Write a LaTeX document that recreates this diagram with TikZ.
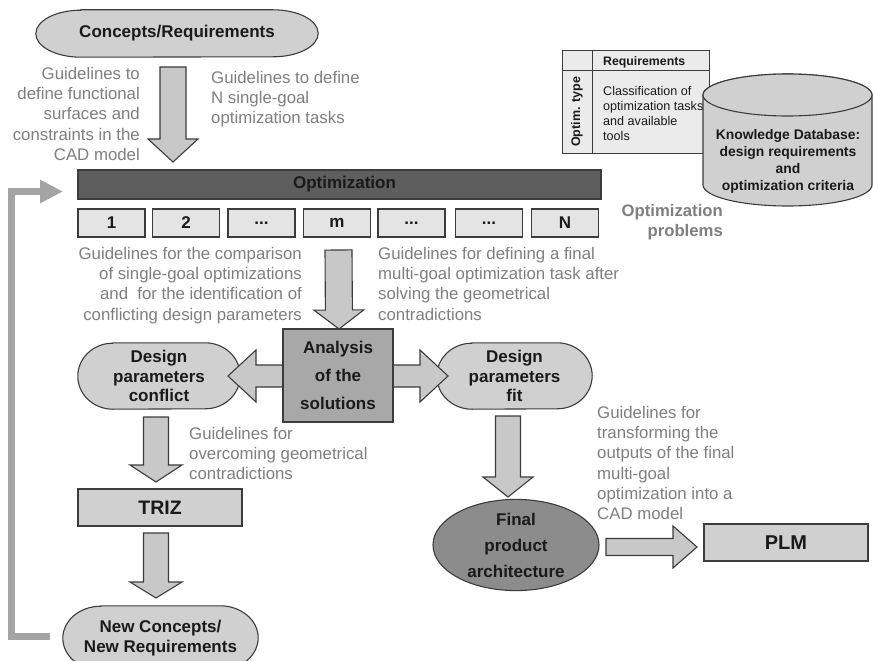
\documentclass[tikz,border=0pt]{standalone}
\usepackage{fontspec}
\setmainfont{Liberation Sans}
\usetikzlibrary{calc,backgrounds,arrows.meta,shapes.geometric}
\definecolor{gtext}{HTML}{7F7F7F}
\definecolor{lfill}{HTML}{D0D0D0}
\definecolor{bfill}{HTML}{E4E4E4}
\definecolor{afill}{HTML}{C8C8C8}
\definecolor{edge}{HTML}{3C3C3C}
\definecolor{darkbar}{HTML}{5E5E5E}
\definecolor{midfill}{HTML}{A8A8A8}
\definecolor{ellfill}{HTML}{8C8C8C}
\definecolor{fbline}{HTML}{A4A4A4}
\definecolor{tfill}{HTML}{EBEBEB}
\definecolor{ink}{HTML}{1A1A1A}

\newcommand\tdots{...}

\tikzset{
 note/.style={text=gtext, font=\fontsize{16.8}{20.3}\selectfont, inner sep=0pt},
 boxnode/.style={draw=edge, line width=1.1pt, fill=bfill, inner sep=0pt, text=ink},
 boldtxt/.style={font=\fontsize{17}{19.5}\selectfont\bfseries, text=ink},
 barrowstyle/.style={draw=edge, line width=1.1pt, fill=afill, line join=miter},
 capsulenode/.style={inner sep=0pt, align=center, text=ink, font=\fontsize{17}{19.5}\selectfont\bfseries},
 capsuleshape/.style={draw=edge, line width=1.1pt},
}

% block arrow: #1 start, #2 tip, #3 shaft half width, #4 head half width, #5 head length
\newcommand\bkarrow[5]{%
 \coordinate (ba-h) at ($(#2)!#5!(#1)$);
 \draw[barrowstyle] ($(#1)!#3!90:(#2)$) -- ($(ba-h)!#3!-90:(#1)$) -- ($(ba-h)!#4!-90:(#1)$) -- (#2)
   -- ($(ba-h)!#4!90:(#1)$) -- ($(ba-h)!#3!90:(#1)$) -- ($(#1)!#3!-90:(#2)$) -- cycle;
}
% capsule: #1 name, #2 center, #3 w, #4 h, #5 rx, #6 fill, #7 text
\newcommand\capsule[7]{%
 \node[capsulenode, minimum width=#3, minimum height=#4] (#1) at (#2) {#7};
 \begin{pgfonlayer}{background}
 \draw[capsuleshape, fill=#6] ([xshift=#5]#1.north west) -- ([xshift=-#5]#1.north east)
   arc[start angle=90, end angle=-90, x radius=#5, y radius=0.5*#4]
   -- ([xshift=#5]#1.south west)
   arc[start angle=270, end angle=90, x radius=#5, y radius=0.5*#4] -- cycle;
 \end{pgfonlayer}
}

\begin{document}
\begin{tikzpicture}[x=1pt, y=-1pt]
\begin{pgfonlayer}{background}
\fill[white] (0,0) rectangle (873,661);
\end{pgfonlayer}
\useasboundingbox (0,0) rectangle (873,661);

% ---- knowledge table ----
\draw[draw=edge, line width=1pt, fill=tfill] (562,51) rectangle (709,153);
\draw[draw=edge, line width=1pt] (592,51) -- (592,153);
\draw[draw=edge, line width=1pt] (562,71) -- (709,71);
\node[anchor=west, inner sep=0pt, text=ink, font=\fontsize{12.3}{15}\selectfont\bfseries] (treq) at (603,62) {Requirements};
\node[rotate=90, inner sep=0pt, text=ink, font=\fontsize{12.5}{15}\selectfont\bfseries] (ttype) at (577,112) {Optim. type};
\node[anchor=north west, align=left, inner sep=0pt, text=ink, font=\fontsize{12.6}{15}\selectfont] (tbody) at (603,86) {Classification of\\optimization tasks\\and available\\tools};

% ---- cylinder ----
\draw[draw=edge, line width=1.1pt, fill=lfill] (703,95) -- (703,185)
  arc[start angle=180, end angle=360, x radius=84.5pt, y radius=21pt] -- (872,95)
  arc[start angle=0, end angle=180, x radius=84.5pt, y radius=21pt] -- cycle;
\draw[draw=edge, line width=1.1pt, fill=lfill] (787.5,95) ellipse [x radius=84.5pt, y radius=21pt];
\node[align=center, inner sep=0pt, text=ink, font=\fontsize{13.9}{17}\selectfont\bfseries] (kdb) at (788,161)
  {Knowledge Database:\\design requirements\\and\\optimization criteria};

% ---- top ----
\capsule{concepts}{177,33.5}{282pt}{47pt}{45pt}{lfill}{Concepts/Requirements}

\node[note, anchor=north east, align=right] (g1) at (140,67) {Guidelines to\\define functional\\surfaces and\\constraints in the\\CAD model};
\node[note, anchor=north west, align=left] (g2) at (211,71) {Guidelines to define\\N single-goal\\optimization tasks};

\node[draw=edge, line width=1.1pt, fill=darkbar, minimum width=523pt, minimum height=29pt, inner sep=0pt, boldtxt] (opt) at (339.5,184.5) {\hspace{10pt}Optimization};

\foreach \nm/\cx/\lb in {b1/111.5/1, b2/186/2, b3/261.5/\tdots, b4/337/m, b5/411.5/\tdots, b6/489/\tdots, b7/565/N}{
  \node[boxnode, boldtxt, minimum width=67pt, minimum height=28pt] (\nm) at (\cx,223) {\lb};
}

\node[anchor=north east, align=right, inner sep=0pt, text=gtext, font=\fontsize{16.7}{20}\selectfont\bfseries] (optprob) at (723,204) {Optimization\\problems};

\coordinate (a1s) at (173,67);
\coordinate (a1e) at (173,162);
\bkarrow{a1s}{a1e}{13pt}{25pt}{23pt}

% ---- middle ----
\node[note, anchor=north east, align=right] (g3) at (302,247) {Guidelines for the comparison\\of single-goal optimizations\\and\ \ for the identification of\\conflicting design parameters};
\node[note, anchor=north west, align=left] (g4) at (378,247) {Guidelines for defining a final\\multi-goal optimization task after\\solving the geometrical\\contradictions};

\coordinate (a2s) at (338.5,250);
\coordinate (a2e) at (339,329);
\bkarrow{a2s}{a2e}{13.5pt}{25pt}{19pt}

\capsule{dpc}{159,376}{162pt}{66pt}{35pt}{lfill}{Design\\parameters\\conflict}
\capsule{dpf}{514.5,376}{155pt}{66pt}{35pt}{lfill}{Design\\parameters\\fit}

\coordinate (anac) at (338,376);
\coordinate (dl) at (228,376);
\coordinate (dr) at (448,376);
\bkarrow{anac}{dl}{11pt}{26pt}{28pt}
\bkarrow{anac}{dr}{11pt}{26pt}{28pt}

\node[draw=edge, line width=1.1pt, fill=midfill, minimum width=110pt, minimum height=93pt, inner sep=0pt, align=center, text=ink, font=\fontsize{17}{28}\selectfont\bfseries] (ana) at (338,375.5) {Analysis\\of the\\solutions};

% ---- lower left ----
\coordinate (a3s) at (156,417);
\coordinate (a3e) at (156,482);
\bkarrow{a3s}{a3e}{12.5pt}{26pt}{17pt}
\node[note, anchor=north west, align=left] (g5) at (189,427) {Guidelines for\\overcoming geometrical\\contradictions};

\node[boxnode, fill=lfill, minimum width=164pt, minimum height=37pt, text=ink, font=\fontsize{19.5}{22}\selectfont\bfseries] (triz) at (160,507.5) {TRIZ};

\coordinate (a4s) at (156,533);
\coordinate (a4e) at (156,598);
\bkarrow{a4s}{a4e}{12.5pt}{26pt}{16pt}

\capsule{newc}{160.5,638}{195pt}{64pt}{38pt}{lfill}{New Concepts/\\New Requirements}

\coordinate (fbs) at (50,636);
\coordinate (fbc) at (11.5,191.5);
\coordinate (fbe) at (63,191.5);
\draw[draw=fbline, line width=7pt, line join=miter, -{Triangle[length=23pt,width=22pt]}] (fbs) -| (fbc) -- (fbe);

% ---- lower right ----
\coordinate (a5s) at (508,416);
\coordinate (a5e) at (508,497);
\bkarrow{a5s}{a5e}{12.5pt}{25pt}{20pt}

\node[ellipse, draw=edge, line width=1.1pt, fill=ellfill, minimum width=166pt, minimum height=86pt, inner sep=0pt, align=center, text=ink, font=\fontsize{17}{26}\selectfont\bfseries] (final) at (516,545) {Final\\product\\architecture};

\node[note, anchor=north west, align=left] (g6) at (597,406) {Guidelines for\\transforming the\\outputs of the final\\multi-goal\\optimization into a\\CAD model};

\coordinate (a6s) at (606,547);
\coordinate (a6e) at (697,547);
\bkarrow{a6s}{a6e}{8.5pt}{21pt}{24pt}

\node[boxnode, fill=lfill, minimum width=164pt, minimum height=37pt, text=ink, font=\fontsize{20}{22}\selectfont\bfseries] (plm) at (786,542.5) {PLM};
\end{tikzpicture}
\end{document}
